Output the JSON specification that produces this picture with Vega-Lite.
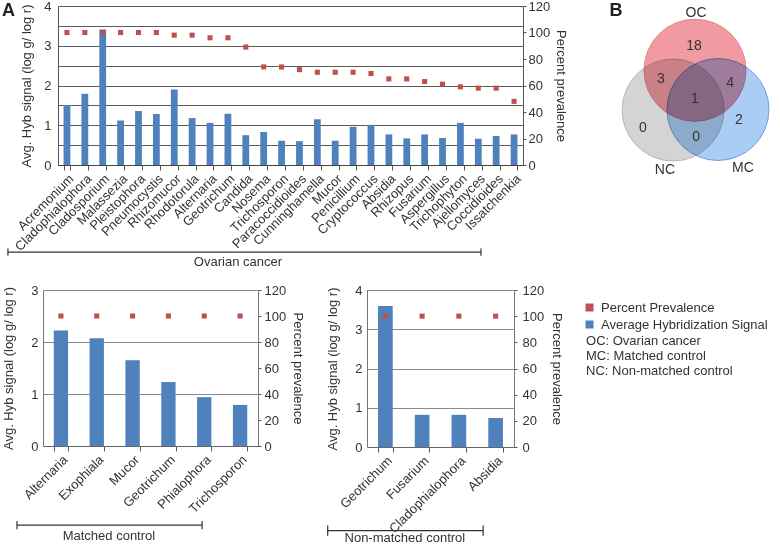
{
  "$schema": "https://vega.github.io/schema/vega-lite/v6.json",
  "background": "white",
  "padding": {"left": 1, "top": 0, "right": 0, "bottom": 0},
  "config": {
    "font": "Liberation Sans",
    "view": {"stroke": null},
    "axis": {"labelFont": "Liberation Sans", "titleFont": "Liberation Sans", "labelFontSize": 13, "titleFontSize": 13, "titleFontWeight": "normal", "labelColor": "#333", "titleColor": "#333", "domainColor": "#555", "tickColor": "#555", "gridColor": "#5a5a5a", "gridOpacity": 1},
    "legend": {"labelFont": "Liberation Sans", "labelFontSize": 13, "labelColor": "#333"}
  },
  "datasets": {
    "oc": [
      {"genus": "Acremonium", "signal": 1.51, "prev": 100},
      {"genus": "Cladophialophora", "signal": 1.79, "prev": 100},
      {"genus": "Cladosporium", "signal": 3.41, "prev": 100},
      {"genus": "Malassezia", "signal": 1.12, "prev": 100},
      {"genus": "Pleistophora", "signal": 1.36, "prev": 100},
      {"genus": "Pneumocystis", "signal": 1.28, "prev": 100},
      {"genus": "Rhizomucor", "signal": 1.90, "prev": 98},
      {"genus": "Rhodotorula", "signal": 1.18, "prev": 98},
      {"genus": "Alternaria", "signal": 1.06, "prev": 96},
      {"genus": "Geotrichum", "signal": 1.29, "prev": 96},
      {"genus": "Candida", "signal": 0.75, "prev": 89},
      {"genus": "Nosema", "signal": 0.83, "prev": 74},
      {"genus": "Trichosporon", "signal": 0.61, "prev": 74},
      {"genus": "Paracoccidioides", "signal": 0.60, "prev": 72},
      {"genus": "Cunninghamella", "signal": 1.15, "prev": 70},
      {"genus": "Mucor", "signal": 0.61, "prev": 70},
      {"genus": "Penicillium", "signal": 0.96, "prev": 70},
      {"genus": "Cryptococcus", "signal": 1.01, "prev": 69},
      {"genus": "Absidia", "signal": 0.77, "prev": 65},
      {"genus": "Rhizopus", "signal": 0.67, "prev": 65},
      {"genus": "Fusarium", "signal": 0.77, "prev": 63},
      {"genus": "Aspergillus", "signal": 0.68, "prev": 61},
      {"genus": "Trichophyton", "signal": 1.06, "prev": 59},
      {"genus": "Ajellomyces", "signal": 0.66, "prev": 58},
      {"genus": "Coccidioides", "signal": 0.73, "prev": 58},
      {"genus": "Issatchenkia", "signal": 0.77, "prev": 48}
    ],
    "mc": [
      {"genus": "Alternaria", "signal": 2.22, "prev": 100},
      {"genus": "Exophiala", "signal": 2.07, "prev": 100},
      {"genus": "Mucor", "signal": 1.65, "prev": 100},
      {"genus": "Geotrichum", "signal": 1.23, "prev": 100},
      {"genus": "Phialophora", "signal": 0.94, "prev": 100},
      {"genus": "Trichosporon", "signal": 0.79, "prev": 100}
    ],
    "nc": [
      {"genus": "Geotrichum", "signal": 3.59, "prev": 100},
      {"genus": "Fusarium", "signal": 0.82, "prev": 100},
      {"genus": "Cladophialophora", "signal": 0.82, "prev": 100},
      {"genus": "Absidia", "signal": 0.74, "prev": 100}
    ],
    "ocBracket": [
      {"x": -2.8, "x2": 23.65, "y": -2.19, "y2": -2.19},
      {"x": -2.8, "x2": -2.8, "y": -2.1, "y2": -2.28},
      {"x": 23.65, "x2": 23.65, "y": -2.1, "y2": -2.28}
    ],
    "mcBracket": [
      {"x": -0.726, "x2": 4.44, "y": -1.52, "y2": -1.52},
      {"x": -0.726, "x2": -0.726, "y": -1.44, "y2": -1.6},
      {"x": 4.44, "x2": 4.44, "y": -1.44, "y2": -1.6}
    ],
    "ncBracket": [
      {"x": -1.07, "x2": 3.16, "y": -2.13, "y2": -2.13},
      {"x": -1.07, "x2": -1.07, "y": -2.0, "y2": -2.26},
      {"x": 3.16, "x2": 3.16, "y": -2.0, "y2": -2.26}
    ],
    "vennSets": [
      {"set": "NC", "cx": -0.43, "cy": 0},
      {"set": "MC", "cx": 0.45, "cy": 0.01},
      {"set": "OC", "cx": 0, "cy": 0.78}
    ],
    "vennLabels": [
      {"label": "OC", "x": 0.02, "y": 1.9},
      {"label": "18", "x": -0.02, "y": 1.25},
      {"label": "3", "x": -0.67, "y": 0.61},
      {"label": "4", "x": 0.69, "y": 0.53},
      {"label": "1", "x": 0, "y": 0.22},
      {"label": "2", "x": 0.86, "y": -0.2},
      {"label": "0", "x": -1.02, "y": -0.35},
      {"label": "0", "x": 0.02, "y": -0.53},
      {"label": "NC", "x": -0.59, "y": -1.18},
      {"label": "MC", "x": 0.94, "y": -1.14}
    ],
    "key": [
      {"label": "OC: Ovarian cancer", "x": 5.96, "y": 2.7},
      {"label": "MC: Matched control", "x": 5.96, "y": 2.32},
      {"label": "NC: Non-matched control", "x": 5.96, "y": 1.94}
    ]
  },
  "spacing": 15,
  "vconcat": [
    {
      "bounds": "flush",
      "spacing": 14,
      "hconcat": [
        {"width": 1, "height": 159, "data": {"values": []}, "mark": "text"},
        {
          "width": 465,
          "height": 159,
          "layer": [
            {
              "data": {"name": "oc"},
              "layer": [
                {
                  "mark": {"type": "bar", "color": "#4f81bd"},
                  "encoding": {
                    "x": {"field": "genus", "type": "nominal", "sort": null,
                      "scale": {"paddingInner": 0.62, "paddingOuter": 0.31},
                      "axis": {"title": null, "labelAngle": -45, "tickBand": "extent", "tickSize": 5, "labelPadding": 2, "domainColor": "#444"}},
                    "y": {"field": "signal", "type": "quantitative", "scale": {"domain": [0, 4], "nice": false},
                      "axis": {"title": "Avg. Hyb signal (log g/ log r)", "values": [0, 0.5, 1, 1.5, 2, 2.5, 3, 3.5, 4], "labelExpr": "datum.value % 1 === 0 ? '' + datum.value : ''", "ticks": false, "labelPadding": 7, "titlePadding": 10, "grid": true}}
                  }
                },
                {
                  "mark": {"type": "square", "color": "#c0504d", "size": 26, "opacity": 1},
                  "encoding": {
                    "x": {"field": "genus", "type": "nominal", "sort": null},
                    "y": {"field": "prev", "type": "quantitative", "scale": {"domain": [0, 120], "nice": false},
                      "axis": {"orient": "right", "title": "Percent prevalence", "values": [0, 20, 40, 60, 80, 100, 120], "grid": false, "tickSize": 3, "labelPadding": 2, "titlePadding": 4}}
                  }
                }
              ],
              "resolve": {"scale": {"y": "independent"}}
            },
            {
              "data": {"name": "ocBracket"},
              "mark": {"type": "rule", "color": "#333", "strokeWidth": 1.2},
              "encoding": {
                "x": {"field": "x", "type": "quantitative", "scale": {"domain": [0, 26], "nice": false, "zero": false}, "axis": null},
                "x2": {"field": "x2"},
                "y": {"field": "y", "type": "quantitative", "scale": {"domain": [0, 4], "nice": false}, "axis": null},
                "y2": {"field": "y2"}
              }
            },
            {
              "data": {"values": [{"label": "Ovarian cancer", "x": 10.06, "y": -2.43}]},
              "mark": {"type": "text", "fontSize": 13, "color": "#333", "align": "center", "baseline": "middle"},
              "encoding": {
                "x": {"field": "x", "type": "quantitative", "scale": {"domain": [0, 26], "nice": false, "zero": false}, "axis": null},
                "y": {"field": "y", "type": "quantitative", "scale": {"domain": [0, 4], "nice": false}, "axis": null},
                "text": {"field": "label"}
              }
            },
            {
              "data": {"values": [{"label": "A", "x": -2.77, "y": 3.87}]},
              "mark": {"type": "text", "fontSize": 18, "fontWeight": "bold", "color": "#222", "align": "center", "baseline": "middle"},
              "encoding": {
                "x": {"field": "x", "type": "quantitative", "scale": {"domain": [0, 26], "nice": false, "zero": false}, "axis": null},
                "y": {"field": "y", "type": "quantitative", "scale": {"domain": [0, 4], "nice": false}, "axis": null},
                "text": {"field": "label"}
              }
            }
          ],
          "resolve": {"scale": {"x": "independent", "y": "independent"}}
        },
        {
          "width": 244,
          "height": 159,
          "layer": [
            {
              "data": {"name": "vennSets"},
              "mark": {"type": "circle", "size": 10404, "opacity": 1, "blend": "multiply", "strokeWidth": 1},
              "encoding": {
                "x": {"field": "cx", "type": "quantitative", "scale": {"domain": [-3.098, 1.686], "nice": false, "zero": false}, "axis": null},
                "y": {"field": "cy", "type": "quantitative", "scale": {"domain": [-1.078, 2.039], "nice": false, "zero": false}, "axis": null},
                "color": {"field": "set", "type": "nominal", "scale": {"domain": ["OC", "MC", "NC"], "range": ["#f29aa2", "#a9cdf5", "#d4d4d4"]}, "legend": null},
                "stroke": {"field": "set", "type": "nominal", "scale": {"domain": ["OC", "MC", "NC"], "range": ["#e8808a", "#6c9fe3", "#b8b8b8"]}, "legend": null}
              }
            },
            {
              "data": {"name": "vennLabels"},
              "mark": {"type": "text", "fontSize": 14, "color": "#333", "align": "center", "baseline": "middle"},
              "encoding": {
                "x": {"field": "x", "type": "quantitative", "scale": {"domain": [-3.098, 1.686], "nice": false, "zero": false}, "axis": null},
                "y": {"field": "y", "type": "quantitative", "scale": {"domain": [-1.078, 2.039], "nice": false, "zero": false}, "axis": null},
                "text": {"field": "label"}
              }
            },
            {
              "data": {"values": [{"label": "B", "x": -1.55, "y": 1.95}]},
              "mark": {"type": "text", "fontSize": 18, "fontWeight": "bold", "color": "#222", "align": "center", "baseline": "middle"},
              "encoding": {
                "x": {"field": "x", "type": "quantitative", "scale": {"domain": [-3.098, 1.686], "nice": false, "zero": false}, "axis": null},
                "y": {"field": "y", "type": "quantitative", "scale": {"domain": [-1.078, 2.039], "nice": false, "zero": false}, "axis": null},
                "text": {"field": "label"}
              }
            }
          ]
        }
      ]
    },
    {
      "bounds": "flush",
      "spacing": 109,
      "resolve": {"scale": {"color": "independent"}, "legend": {"color": "independent"}},
      "hconcat": [
        {
          "width": 215,
          "height": 156,
          "layer": [
            {
              "data": {"name": "mc"},
              "layer": [
                {
                  "mark": {"type": "bar", "color": "#4f81bd"},
                  "encoding": {
                    "x": {"field": "genus", "type": "nominal", "sort": null,
                      "scale": {"paddingInner": 0.6, "paddingOuter": 0.3},
                      "axis": {"title": null, "labelAngle": -45, "tickBand": "extent", "tickSize": 5, "labelPadding": 2, "domainColor": "#666"}},
                    "y": {"field": "signal", "type": "quantitative", "scale": {"domain": [0, 3], "nice": false},
                      "axis": {"title": "Avg. Hyb signal (log g/ log r)", "values": [0, 1, 2, 3], "ticks": false, "labelPadding": 5, "titlePadding": 15, "grid": true, "gridColor": "#8a8a8a", "domainColor": "#777"}}
                  }
                },
                {
                  "mark": {"type": "square", "color": "#c0504d", "size": 26, "opacity": 1},
                  "encoding": {
                    "x": {"field": "genus", "type": "nominal", "sort": null},
                    "y": {"field": "prev", "type": "quantitative", "scale": {"domain": [0, 120], "nice": false},
                      "axis": {"orient": "right", "title": "Percent prevalence", "values": [0, 20, 40, 60, 80, 100, 120], "grid": false, "tickSize": 3, "labelPadding": 3, "titlePadding": 5, "domainColor": "#777"}}
                  }
                }
              ],
              "resolve": {"scale": {"y": "independent"}}
            },
            {
              "data": {"name": "mcBracket"},
              "mark": {"type": "rule", "color": "#333", "strokeWidth": 1.2},
              "encoding": {
                "x": {"field": "x", "type": "quantitative", "scale": {"domain": [0, 6], "nice": false, "zero": false}, "axis": null},
                "x2": {"field": "x2"},
                "y": {"field": "y", "type": "quantitative", "scale": {"domain": [0, 3], "nice": false}, "axis": null},
                "y2": {"field": "y2"}
              }
            },
            {
              "data": {"values": [{"label": "Matched control", "x": 1.84, "y": -1.73}]},
              "mark": {"type": "text", "fontSize": 13, "color": "#333", "align": "center", "baseline": "middle"},
              "encoding": {
                "x": {"field": "x", "type": "quantitative", "scale": {"domain": [0, 6], "nice": false, "zero": false}, "axis": null},
                "y": {"field": "y", "type": "quantitative", "scale": {"domain": [0, 3], "nice": false}, "axis": null},
                "text": {"field": "label"}
              }
            }
          ],
          "resolve": {"scale": {"x": "independent", "y": "independent"}}
        },
        {
          "width": 147,
          "height": 157,
          "layer": [
            {
              "data": {"name": "nc"},
              "layer": [
                {
                  "mark": {"type": "bar"},
                  "encoding": {
                    "x": {"field": "genus", "type": "nominal", "sort": null,
                      "scale": {"paddingInner": 0.6, "paddingOuter": 0.3},
                      "axis": {"title": null, "labelAngle": -45, "tickBand": "extent", "tickSize": 5, "labelPadding": 2, "domainColor": "#666"}},
                    "y": {"field": "signal", "type": "quantitative", "scale": {"domain": [0, 4], "nice": false},
                      "axis": {"title": "Avg. Hyb signal (log g/ log r)", "values": [0, 1, 2, 3, 4], "ticks": false, "labelPadding": 5, "titlePadding": 15, "grid": true, "gridColor": "#8a8a8a", "domainColor": "#777"}},
                    "color": {"datum": "Average Hybridization Signal", "type": "nominal",
                      "scale": {"domain": ["Percent Prevalence", "Average Hybridization Signal"], "range": ["#c0504d", "#4f81bd"]},
                      "legend": {"orient": "right", "title": null, "symbolType": "square", "symbolSize": 64, "offset": 9, "padding": 11, "rowPadding": 3, "labelOffset": 5, "labelFontSize": 13, "labelLimit": 300, "symbolStrokeWidth": 0}}
                  }
                },
                {
                  "mark": {"type": "square", "size": 26, "opacity": 1},
                  "encoding": {
                    "x": {"field": "genus", "type": "nominal", "sort": null},
                    "y": {"field": "prev", "type": "quantitative", "scale": {"domain": [0, 120], "nice": false},
                      "axis": {"orient": "right", "title": "Percent prevalence", "values": [0, 20, 40, 60, 80, 100, 120], "grid": false, "tickSize": 3, "labelPadding": 5, "titlePadding": 6, "domainColor": "#777"}},
                    "color": {"datum": "Percent Prevalence", "type": "nominal"}
                  }
                }
              ],
              "resolve": {"scale": {"y": "independent"}}
            },
            {
              "data": {"name": "ncBracket"},
              "mark": {"type": "rule", "color": "#333", "strokeWidth": 1.2},
              "encoding": {
                "x": {"field": "x", "type": "quantitative", "scale": {"domain": [0, 4], "nice": false, "zero": false}, "axis": null},
                "x2": {"field": "x2"},
                "y": {"field": "y", "type": "quantitative", "scale": {"domain": [0, 4], "nice": false}, "axis": null},
                "y2": {"field": "y2"}
              }
            },
            {
              "data": {"values": [{"label": "Non-matched control", "x": 1.03, "y": -2.33}]},
              "mark": {"type": "text", "fontSize": 13, "color": "#333", "align": "center", "baseline": "middle"},
              "encoding": {
                "x": {"field": "x", "type": "quantitative", "scale": {"domain": [0, 4], "nice": false, "zero": false}, "axis": null},
                "y": {"field": "y", "type": "quantitative", "scale": {"domain": [0, 4], "nice": false}, "axis": null},
                "text": {"field": "label"}
              }
            },
            {
              "data": {"name": "key"},
              "mark": {"type": "text", "fontSize": 13, "color": "#333", "align": "left", "baseline": "middle"},
              "encoding": {
                "x": {"field": "x", "type": "quantitative", "scale": {"domain": [0, 4], "nice": false, "zero": false}, "axis": null},
                "y": {"field": "y", "type": "quantitative", "scale": {"domain": [0, 4], "nice": false}, "axis": null},
                "text": {"field": "label"}
              }
            }
          ],
          "resolve": {"scale": {"x": "independent", "y": "independent"}}
        }
      ]
    }
  ]
}
